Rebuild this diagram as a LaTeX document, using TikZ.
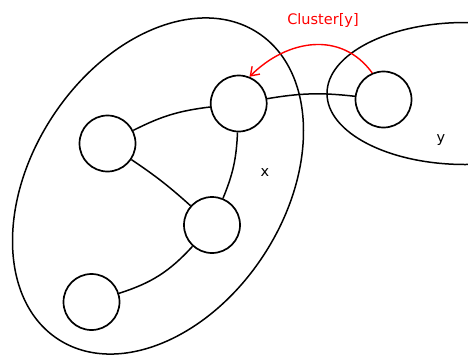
\documentclass[tikz,border=0pt]{standalone}
\usepackage{fontspec}
\setmainfont{DejaVu Sans}
\usetikzlibrary{arrows.meta}
\begin{document}
\begin{tikzpicture}[x=1pt,y=1pt,
  vertex/.style={circle,draw,line width=1.7pt,minimum size=56pt,inner sep=0pt},
  edge/.style={line width=1.5pt},
  cluster/.style={line width=1.5pt},
  lbl/.style={font=\fontsize{14.5}{17}\selectfont},
  redarrow/.style={draw=red,line width=1.4pt,-{Straight Barb[length=8pt,width=11pt,line width=1.4pt]}}]
\useasboundingbox (0,0) rectangle (468,-354);
\clip (0,0) rectangle (468,-354);
\draw[cluster,rotate around={56.9:(158,-186)}] (158,-186) ellipse [x radius=182.9, y radius=126.3];
\draw[cluster] (465,-93.5) ellipse [x radius=138, y radius=71];
\node[vertex] (A) at (238.7,-103.5) {};
\node[vertex] (B) at (107.5,-143.5) {};
\node[vertex] (C) at (212,-225) {};
\node[vertex] (D) at (91.5,-302) {};
\node[vertex] (E) at (383.5,-99.5) {};
\draw[edge] (B) to[bend left=10] (A);
\draw[edge] (A) to[bend left=10] (C);
\draw[edge] (B) to[bend left=4] (C);
\draw[edge] (C) to[bend left=15] (D);
\draw[edge] (A) to[bend left=8] (E);
\draw[redarrow] (E.113) to[out=126,in=45,looseness=1.1] (A.68);
\node[lbl,text=red] (cl) at (323,-20) {Cluster[y]};
\node[lbl] (lx) at (265,-173) {x};
\node[lbl] (ly) at (441,-140) {y};
\end{tikzpicture}
\end{document}
